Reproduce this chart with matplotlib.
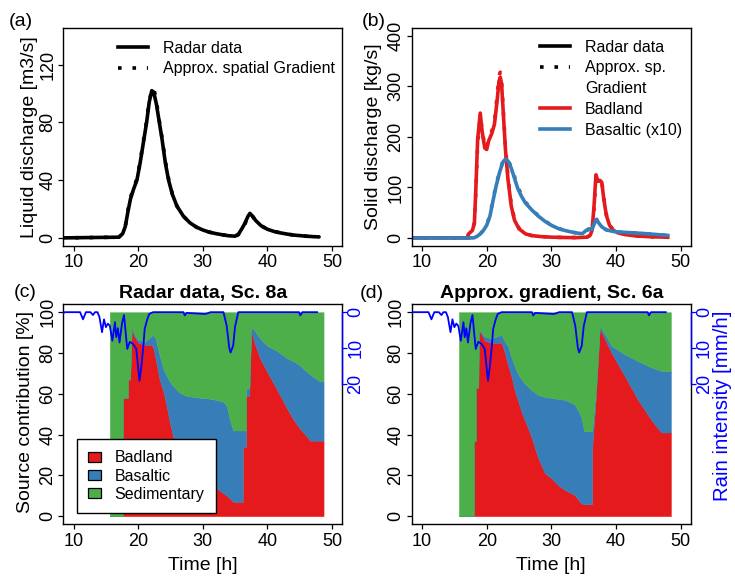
import numpy as np
import matplotlib
matplotlib.use('Agg')
import matplotlib.pyplot as plt
from matplotlib.lines import Line2D
from matplotlib.patches import Patch

plt.rcParams['font.family'] = ['Liberation Sans', 'DejaVu Sans']

# ---------------- data ----------------
# (a) liquid discharge [m3/s]
t_a = [8.0, 17.0, 17.6, 18.0, 18.4, 18.8, 19.3, 19.8, 20.3, 20.8, 21.3, 21.7, 22.1, 22.4, 22.8, 23.2,
       23.7, 24.2, 24.7, 25.3, 26.0, 27.0, 28.0, 29.0, 30.0, 31.0, 32.0, 33.0, 34.0, 35.0, 35.5, 36.0,
       36.5, 37.0, 37.3, 37.7, 38.2, 39.0, 40.0, 41.0, 42.0, 43.0, 44.0, 45.0, 46.0, 47.0, 48.0]
q_radar = [0, 0.5, 3, 8, 18, 27, 34, 40, 52, 66, 80, 94, 102, 101, 93, 82,
           68, 52, 40, 30, 22, 15, 10.5, 7.5, 5.5, 4, 3, 2.2, 1.5, 1.2, 2.5, 6,
           10, 15, 17, 15, 12, 8.5, 6, 4.5, 3.5, 2.7, 2, 1.6, 1.2, 0.9, 0.7]
q_approx = [0, 0.5, 3, 8, 19, 28, 35, 41, 53, 67, 81, 95, 102, 104, 95, 83,
            69, 53, 41, 30, 22, 15, 10.5, 7.5, 5.5, 4, 3, 2.2, 1.5, 1.2, 2.2, 5.5,
            9.5, 14.5, 16.5, 15, 12, 8.5, 6, 4.5, 3.5, 2.7, 2, 1.6, 1.2, 0.9, 0.7]

# (b) solid discharge [kg/s]
t_b = [8.0, 17.0, 17.2, 17.8, 18.1, 18.3, 18.6, 19.0, 19.3, 19.7, 20.0, 20.3, 20.8, 21.2, 21.6, 21.9,
       22.1, 22.3, 22.6, 22.9, 23.3, 23.8, 24.3, 25.0, 26.0, 27.0, 28.5, 30.0, 32.0, 34.0, 35.5, 36.0,
       36.3, 36.6, 36.9, 37.2, 37.5, 37.8, 38.1, 38.5, 39.0, 39.6, 40.3, 41.5, 43.0, 45.0, 48.0]
badland_radar = [0, 0, 8, 15, 30, 90, 195, 247, 210, 178, 175, 192, 207, 225, 270, 310,
                 318, 305, 240, 175, 115, 63, 35, 18, 8, 4.5, 2.5, 1.5, 0.8, 0.6, 1.5, 5,
                 15, 63, 125, 112, 114, 110, 78, 45, 25, 15, 10, 6.5, 4, 2.5, 1.3]
badland_approx = [0, 0, 8, 15, 30, 85, 185, 240, 215, 180, 178, 198, 212, 232, 280, 320,
                  328, 310, 245, 180, 120, 66, 37, 19, 8.5, 4.5, 2.5, 1.5, 0.8, 0.6, 1.5, 5,
                  14, 55, 118, 120, 118, 112, 80, 47, 26, 15, 10, 6.5, 4, 2.5, 1.3]
t_bas = [8.0, 18.0, 18.5, 19.0, 19.5, 20.0, 20.5, 21.0, 21.5, 22.0, 22.5, 22.9, 23.3, 23.8, 24.2,
         24.8, 25.4, 26.0, 27.0, 28.0, 29.0, 30.0, 31.0, 32.0, 33.0, 34.0, 34.8, 35.3, 35.8, 36.3,
         36.7, 37.0, 37.3, 37.8, 38.5, 39.5, 40.5, 42.0, 44.0, 46.0, 48.0]
basaltic_radar = [0, 0, 3, 8, 15, 25, 43, 75, 105, 130, 150, 156, 152, 138, 122,
                  98, 82, 69, 55, 43, 33, 25, 19, 15, 12, 9.5, 8.5, 14, 18, 17,
                  30, 37, 30, 22, 16, 13, 11.5, 10.5, 9, 7, 5]
basaltic_approx = [0, 0, 3, 8, 15, 26, 45, 78, 108, 132, 152, 158, 154, 141, 126,
                   102, 85, 71, 56, 44, 34, 25, 19, 15, 12, 9.5, 8.5, 13, 17, 17,
                   29, 36, 30, 22, 16, 13, 11.5, 10.5, 9, 7, 5]

# (c) source contribution [%], radar data Sc. 8a
t_c = [15.6, 17.6, 17.6, 18.4, 18.4, 18.75, 19.0, 19.4, 20.0, 21.0, 22.0, 22.3, 22.7, 23.3, 23.9,
       24.4, 24.9, 25.4, 26.4, 27.5, 28.5, 29.6, 30.6, 32.1, 33.2, 33.7, 34.2, 34.7, 36.2, 36.2,
       36.7, 36.7, 37.2, 37.5, 38.0, 38.9, 40.0, 41.5, 43.0, 44.0, 45.0, 46.0, 46.6, 47.9, 48.7]
badland_c = [0, 0, 58, 58, 67, 67, 92, 88, 85, 84, 84, 83, 77, 67, 61,
             54, 45.7, 39, 31, 24.3, 19.4, 16, 14.5, 13.7, 11.2, 10, 8.7, 7, 7, 34,
             34, 59, 59, 91, 85, 77, 70.5, 62, 53, 47.5, 43, 39.5, 37, 37, 37]
basaltic_c = [0, 0, 0, 0, 0, 0, 1, 1, 1.5, 1.5, 4, 6, 10, 12, 11,
              14.8, 20.3, 24.8, 29.5, 34.6, 39.1, 42, 43.3, 43.3, 44.8, 44, 38.3, 35, 35, 8,
              8, 3, 4, 2, 6, 10, 13, 19, 24.5, 28.5, 31, 31.5, 32.5, 29.4, 29]
sedimentary_c = [100, 100, 42, 42, 33, 33, 7, 11, 13.5, 14.5, 12, 11, 13, 21, 28,
                 31.2, 34, 36.2, 39.5, 41.1, 41.5, 42, 42.2, 43, 44, 46, 53, 58, 58, 58,
                 58, 38, 37, 7, 9, 13, 16.5, 19, 22.5, 24, 26, 29, 30.5, 33.6, 34]

# (d) source contribution [%], approx. gradient Sc. 6a
t_d = [15.7, 18.0, 18.0, 18.3, 18.3, 18.7, 18.8, 19.2, 19.7, 20.7, 22.3, 22.8, 23.3, 23.8, 24.3,
       24.8, 25.4, 25.9, 26.9, 27.9, 29.0, 30.0, 31.0, 32.1, 33.6, 34.6, 35.1, 36.3, 36.3, 36.9,
       37.5, 39.3, 41.3, 43.4, 45.5, 47.0, 48.5]
badland_d = [0, 0, 36.7, 36.7, 63, 63, 91, 89, 86, 85, 85, 80, 74, 68.8, 62,
             57, 51, 47, 39, 29, 21, 18.6, 15.3, 12.8, 10.4, 6.3, 5.8, 5.8, 33, 59,
             92, 80, 69, 57, 47, 41, 41]
basaltic_d = [0, 0, 0, 0, 0, 0, 0.5, 1, 2, 2, 4, 5.5, 9.5, 9.2, 11.7,
              13, 16, 18, 23, 30.5, 37.5, 39.4, 42.2, 44.2, 44.4, 42.7, 35.8, 35.8, 8.6, 3,
              1.4, 3.5, 10.4, 19, 25.9, 30.2, 30]
sedimentary_d = [100, 100, 63.3, 63.3, 37, 37, 8.5, 10, 12, 13, 11, 14.5, 16.5, 22, 26.3,
                 30, 33, 35, 38, 40.5, 41.5, 42, 42.5, 43, 45.2, 51, 58.4, 58.4, 58.4, 38,
                 6.6, 16.5, 20.6, 24, 27.1, 28.8, 29]

# rain intensity [mm/h]
t_rain = [8.3, 8.6, 11.0, 11.45, 11.9, 12.6, 13.0, 13.3, 13.7, 14.0, 14.4, 14.7, 15.0, 15.3, 15.6,
          16.0, 16.4, 16.6, 16.85, 17.1, 17.5, 17.8, 18.3, 18.7, 19.2, 19.7, 20.2, 20.5, 20.8, 21.0,
          21.4, 21.7, 22.3, 27.0, 27.2, 27.5, 30.3, 30.6, 31.2, 33.2, 33.7, 34.1, 34.3, 34.7, 35.0,
          35.5, 44.9, 45.1, 45.4, 47.7]
rain = [0.5, 0, 0, 2, 0, 0, 0.8, 0, 0, 1.4, 5.6, 2, 4.2, 3.2, 3.8,
        8, 2.8, 7, 4.5, 8.5, 3, 0.8, 10.3, 8.3, 8.9, 10.3, 19.2, 15, 9.4, 4.7,
        2, 0.5, 0, 0, 0.9, 0.2, 0.5, 0.4, 0, 0, 3.8, 10, 11.3, 9.4, 4,
        0, 0, 0.9, 0, 0]

source_names = ['Badland', 'Basaltic', 'Sedimentary']
x_ticks = [10, 20, 30, 40, 50]

RED = '#E41A1C'
BLUE = '#377EB8'
GREEN = '#4DAF4A'

# ---------------- figure ----------------
W, H = 735, 576
fig = plt.figure(figsize=(W / 100, H / 100), dpi=100)
fig.patch.set_facecolor('white')


def axrect(l, t, r, b):
    return [l / W, 1 - b / H, (r - l) / W, (b - t) / H]


ax_a = fig.add_axes(axrect(63.3, 27.7, 342.3, 246))
ax_b = fig.add_axes(axrect(411.7, 27.7, 691, 246))
ax_c = fig.add_axes(axrect(63.3, 304, 342.3, 524.3))
ax_d = fig.add_axes(axrect(411.7, 304, 691, 524.3))

FS_TICK = 13
FS_LAB = 14
FS_LEG = 11.5


def style(ax, yticks, ylim):
    for s in ax.spines.values():
        s.set_linewidth(1.0)
    ax.set_xlim(8.4, 51.6)
    ax.set_xticks(x_ticks)
    ax.set_ylim(*ylim)
    ax.set_yticks(yticks)
    ax.tick_params(direction='out', length=3.6, width=0.9, labelsize=FS_TICK)
    ax.tick_params(axis='x', pad=2.5)
    ax.tick_params(axis='y', pad=1.5, labelrotation=90)
    for lb in ax.get_yticklabels():
        lb.set_verticalalignment('center')


DOT = (0, (1, 3))
LW = 2.6

# (a)
ax_a.plot(t_a, q_radar, color='black', lw=LW, solid_capstyle='round')
ax_a.plot(t_a, q_approx, color='black', lw=LW, linestyle=DOT)
style(ax_a, [0, 40, 80, 120], (-5.6, 145.6))
h_a = [Line2D([], [], color='black', lw=2.6), Line2D([], [], color='black', lw=2.6, linestyle=DOT)]
ax_a.legend(h_a, ['Radar data', 'Approx. spatial Gradient'], loc='upper left',
            bbox_to_anchor=((118 - 63.3) / 279, (246 - 41) / 218.3), frameon=False,
            fontsize=FS_LEG, borderpad=0, borderaxespad=0, handlelength=1.875,
            handletextpad=0.94, labelspacing=0.32)

# (b)
ax_b.plot(t_b, badland_radar, color=RED, lw=LW)
ax_b.plot(t_b, badland_approx, color=RED, lw=LW, linestyle=DOT)
ax_b.plot(t_bas, basaltic_radar, color=BLUE, lw=LW)
ax_b.plot(t_bas, basaltic_approx, color=BLUE, lw=LW, linestyle=DOT)
style(ax_b, [0, 100, 200, 300, 400], (-16, 416))
h_b = [Line2D([], [], color='black', lw=2.6), Line2D([], [], color='black', lw=2.6, linestyle=DOT),
       Line2D([], [], color='none', lw=0), Line2D([], [], color=RED, lw=2.6),
       Line2D([], [], color=BLUE, lw=2.6)]
ax_b.legend(h_b, ['Radar data', 'Approx. sp.', 'Gradient', 'Badland', 'Basaltic (x10)'],
            loc='upper left', bbox_to_anchor=((540 - 411.7) / 279.3, (246 - 39.5) / 218.3),
            frameon=False, fontsize=FS_LEG, borderpad=0, borderaxespad=0, handlelength=1.875,
            handletextpad=0.94, labelspacing=0.36)


# (c), (d)
def stacked(ax, t, bad, bas, sed, title):
    parts = np.array([bad, bas, sed], dtype=float)
    tops = np.cumsum(parts, axis=0)
    bottoms = np.vstack([np.zeros(len(t)), tops[:-1]])
    for col, lo, hi in zip([RED, BLUE, GREEN], bottoms, tops):
        ax.fill_between(t, lo, hi, facecolor=col, edgecolor=col, lw=0.3)
    style(ax, [0, 20, 40, 60, 80, 100], (-4, 104))
    ax.set_title(title, fontsize=14, fontweight='bold', pad=4.1)
    tw = ax.twinx()
    tw.plot(t_rain, rain, color='blue', lw=1.3)
    tw.set_ylim(59.4, -2.29)
    tw.set_yticks([0, 10, 20])
    tw.tick_params(axis='y', colors='blue', direction='out', length=3.6, width=0.9,
                   labelsize=FS_TICK, pad=0, labelrotation=90)
    for lb in tw.get_yticklabels():
        lb.set_verticalalignment('center')
    for k in ['left', 'top', 'bottom']:
        tw.spines[k].set_visible(False)
    tw.spines['right'].set_bounds(0, 20)
    tw.spines['right'].set_color('blue')
    tw.spines['right'].set_linewidth(1.0)
    return tw


stacked(ax_c, t_c, badland_c, basaltic_c, sedimentary_c, 'Radar data, Sc. 8a')
stacked(ax_d, t_d, badland_d, basaltic_d, sedimentary_d, 'Approx. gradient, Sc. 6a')

h_c = [Patch(facecolor=c, edgecolor='black', lw=0.9) for c in [RED, BLUE, GREEN]]
leg = ax_c.legend(h_c, source_names, loc='lower left', bbox_to_anchor=(0.049, 0.051),
                  borderaxespad=0, frameon=True, fancybox=False, edgecolor='black',
                  framealpha=1, fontsize=FS_LEG, handlelength=0.79, handleheight=0.63,
                  handletextpad=0.84, borderpad=0.72, labelspacing=0.19)
leg.get_frame().set_linewidth(1.0)
leg.set_zorder(10)

# labels
fig.text(30 / W, 1 - 137 / H, 'Liquid discharge [m3/s]', rotation=90, ha='center', va='center', fontsize=FS_LAB)
fig.text(374 / W, 1 - 137 / H, 'Solid discharge [kg/s]', rotation=90, ha='center', va='center', fontsize=FS_LAB)
fig.text(26 / W, 1 - 412 / H, 'Source contribution [%]', rotation=90, ha='center', va='center', fontsize=FS_LAB)
fig.text(723 / W, 1 - 406 / H, 'Rain intensity [mm/h]', rotation=90, ha='center', va='center',
         fontsize=14.7, color='blue')
fig.text(202.8 / W, 1 - 570 / H, 'Time [h]', ha='center', va='baseline', fontsize=FS_LAB)
fig.text(551.3 / W, 1 - 570 / H, 'Time [h]', ha='center', va='baseline', fontsize=FS_LAB)

for lab, x, y in [('(a)', 21, 21), ('(b)', 373.5, 21), ('(c)', 25, 292.5), ('(d)', 371.5, 293)]:
    fig.text(x / W, 1 - y / H, lab, ha='center', va='center', fontsize=FS_LAB)

fig.savefig('out.png', dpi=100, facecolor='white')
